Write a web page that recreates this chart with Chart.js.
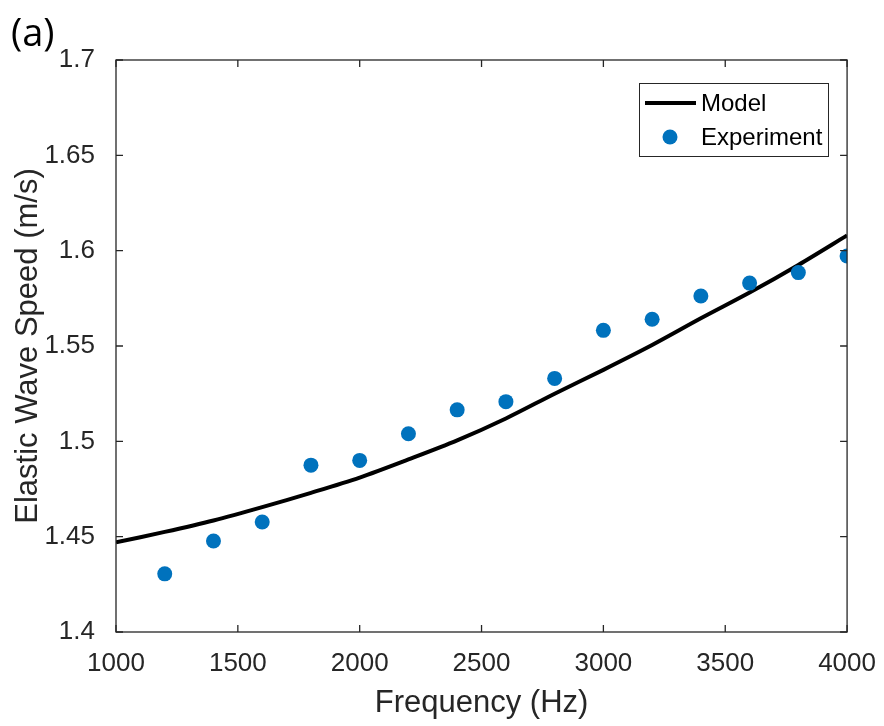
<!DOCTYPE html>
<html>
<head>
<meta charset="utf-8">
<script src="https://cdn.jsdelivr.net/npm/chart.js@4/dist/chart.umd.min.js"></script>
<style>
  html, body { margin: 0; padding: 0; background: #fff; }
</style>
</head>
<body>
<canvas id="myChart" width="884" height="726"></canvas>
<script>
// model curve, every 200 Hz
const modelFreq = [1000, 1200, 1400, 1600, 1800, 2000, 2200, 2400, 2600, 2800, 3000, 3200, 3400, 3600, 3800, 4000];
const modelSpeed = [1.447, 1.4525, 1.4585, 1.4655, 1.473, 1.481, 1.4905, 1.5005, 1.512, 1.525, 1.5375, 1.5505, 1.5645, 1.578, 1.5925, 1.608];

// measured points
const expFreq = [1200, 1400, 1600, 1800, 2000, 2200, 2400, 2600, 2800, 3000, 3200, 3400, 3600, 3800, 4000];
const expSpeed = [1.4305, 1.4477, 1.4577, 1.4875, 1.4900, 1.5040, 1.5165, 1.5208, 1.5330, 1.5582, 1.5640, 1.5762, 1.5830, 1.5885, 1.5972];

const xTicks = [1000, 1500, 2000, 2500, 3000, 3500, 4000];
const yTicks = [1.4, 1.45, 1.5, 1.55, 1.6, 1.65, 1.7];

const axisColor = '#262626';
const font = 'Liberation Sans, Arial, sans-serif';

// frame with inward ticks on all four sides, the legend box and the panel label
const framePlugin = {
    id: 'frame',
    afterDraw(chart) {
        const c = chart.ctx;
        const a = chart.chartArea;
        const xs = chart.scales.x;
        const ys = chart.scales.y;
        c.save();
        c.strokeStyle = axisColor;
        c.lineWidth = 1.3;
        c.strokeRect(a.left, a.top, a.right - a.left, a.bottom - a.top);
        c.beginPath();
        xTicks.forEach(v => {
            const px = xs.getPixelForValue(v);
            c.moveTo(px, a.bottom); c.lineTo(px, a.bottom - 7);
            c.moveTo(px, a.top); c.lineTo(px, a.top + 7);
        });
        yTicks.forEach(v => {
            const py = ys.getPixelForValue(v);
            c.moveTo(a.left, py); c.lineTo(a.left + 7, py);
            c.moveTo(a.right, py); c.lineTo(a.right - 7, py);
        });
        c.stroke();

        // legend
        const lx = 639, ly = 83, lw = 189, lh = 73;
        c.fillStyle = '#fff';
        c.fillRect(lx, ly, lw, lh);
        c.strokeStyle = axisColor;
        c.lineWidth = 1;
        c.strokeRect(lx + 0.5, ly + 0.5, lw, lh);
        c.strokeStyle = '#000';
        c.lineWidth = 4;
        c.beginPath();
        c.moveTo(645, 103); c.lineTo(696, 103);
        c.stroke();
        c.fillStyle = '#0072BD';
        c.beginPath();
        c.arc(670, 137, 7.5, 0, Math.PI * 2);
        c.fill();
        c.fillStyle = '#000';
        c.font = '24px ' + font;
        c.textBaseline = 'middle';
        c.fillText('Model', 701, 104);
        c.fillText('Experiment', 701, 138);

        // panel label
        c.font = '38px "Open Sans", sans-serif';
        c.fillText('(a)', 11, 35);
        c.restore();
    }
};

const ctx = document.getElementById('myChart').getContext('2d');
const myChart = new Chart(ctx, {
    type: 'scatter',
    data: {
        datasets: [
            {
                label: 'Model',
                data: modelFreq.map((f, i) => ({ x: f, y: modelSpeed[i] })),
                showLine: true,
                borderColor: '#000',
                borderWidth: 4,
                pointRadius: 0,
                tension: 0.3,
                order: 2
            },
            {
                label: 'Experiment',
                data: expFreq.map((f, i) => ({ x: f, y: expSpeed[i] })),
                showLine: false,
                backgroundColor: '#0072BD',
                borderWidth: 0,
                pointRadius: 7.5,
                order: 1
            }
        ]
    },
    options: {
        responsive: false,
        animation: false,
        layout: { padding: { top: 60, right: 33, left: 0, bottom: 0 } },
        plugins: {
            legend: { display: false },
            tooltip: { enabled: false }
        },
        scales: {
            x: {
                type: 'linear',
                min: 1000,
                max: 4000,
                afterBuildTicks: s => { s.ticks = xTicks.map(v => ({ value: v })); },
                afterFit: s => { s.height = 94; },
                grid: { display: false },
                border: { display: false },
                ticks: {
                    color: axisColor,
                    font: { family: font, size: 26 },
                    padding: 8,
                    maxRotation: 0,
                    callback: v => String(v)
                },
                title: {
                    display: true,
                    text: 'Frequency (Hz)',
                    color: axisColor,
                    font: { family: font, size: 31 },
                    padding: { top: 0, bottom: 4 }
                }
            },
            y: {
                type: 'linear',
                min: 1.4,
                max: 1.7,
                afterBuildTicks: s => { s.ticks = yTicks.map(v => ({ value: v })); },
                afterFit: s => { s.width = 116; },
                grid: { display: false },
                border: { display: false },
                ticks: {
                    color: axisColor,
                    font: { family: font, size: 26 },
                    padding: 13,
                    callback: v => String(Math.round(v * 100) / 100)
                },
                title: {
                    display: true,
                    text: 'Elastic Wave Speed (m/s)',
                    color: axisColor,
                    font: { family: font, size: 31 },
                    padding: { top: 10, bottom: 0 }
                }
            }
        }
    },
    plugins: [framePlugin]
});
</script>
</body>
</html>
